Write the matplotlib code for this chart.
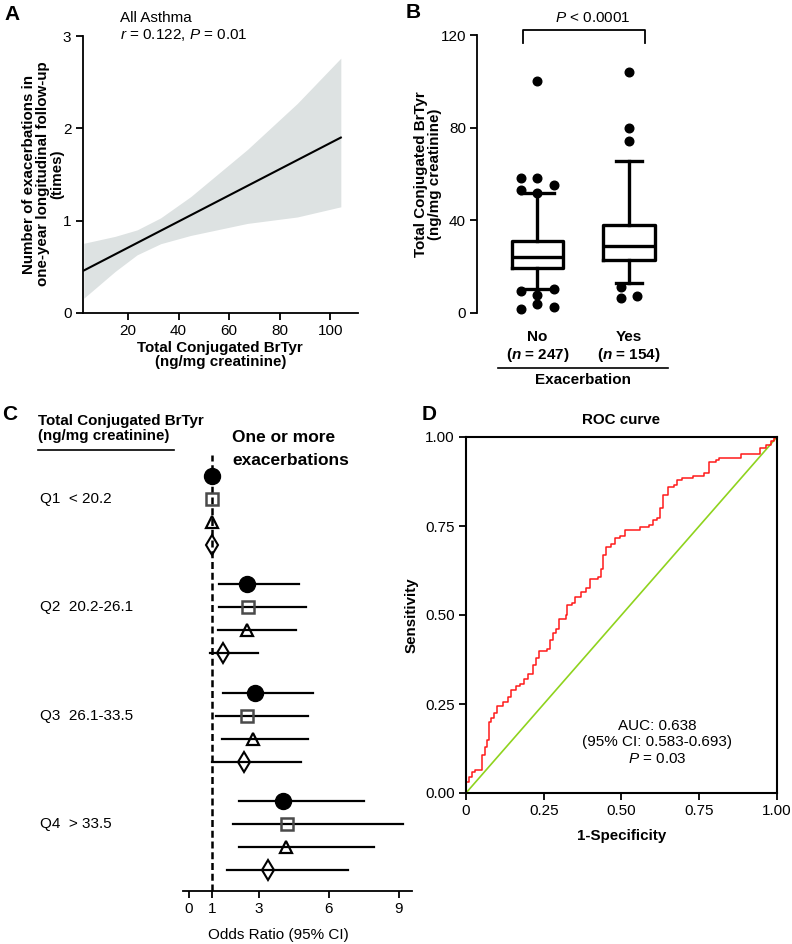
import matplotlib
matplotlib.use("Agg")
import matplotlib.pyplot as plt
import matplotlib.transforms as mtransforms
import numpy as np

plt.rcParams['font.family'] = ['Liberation Sans', 'DejaVu Sans']
plt.rcParams['mathtext.fontset'] = 'custom'
plt.rcParams['mathtext.rm'] = 'Liberation Sans'
plt.rcParams['mathtext.it'] = 'Liberation Sans:italic'
plt.rcParams['mathtext.bf'] = 'Liberation Sans:bold'
try:
    plt.rcParams['mathtext.bfit'] = 'Liberation Sans:bold:italic'
except KeyError:
    pass

# ---- Panel A: regression line with confidence band
a_line_x = [2.5, 104.2]
a_line_y = [0.46, 1.90]
a_band_x = [2.5, 14.9, 23.6, 32.9, 44.8, 67.2, 87.0, 104.2]
a_band_lo = [0.16, 0.45, 0.63, 0.75, 0.84, 0.97, 1.04, 1.15]
a_band_hi = [0.755, 0.83, 0.90, 1.03, 1.26, 1.77, 2.27, 2.76]

# ---- Panel B: box plot (Tukey) by exacerbation status
b_groups = ['No', 'Yes']
b_n = [247, 154]
b_q1 = [19.3, 22.9]
b_med = [24.0, 29.1]
b_q3 = [31.2, 38.0]
b_whislo = [10.2, 12.8]
b_whishi = [51.7, 65.6]
b_fliers = [
    [100.0, 58.1, 58.4, 55.2, 53.1, 51.9, 9.6, 10.2, 7.6, 1.6, 3.8, 2.7],
    [103.9, 80.0, 74.2, 11.4, 6.3, 7.3],
]
b_flier_dx = [
    [0, -0.18, 0, 0.18, -0.18, 0, -0.18, 0.18, 0, -0.18, 0, 0.18],
    [0, 0, 0, -0.09, -0.09, 0.09],
]

# ---- Panel C: odds ratios by quartile (4 models each)
c_labels = ['Q1  < 20.2', 'Q2  20.2-26.1', 'Q3  26.1-33.5', 'Q4  > 33.5']
c_or = [[1, 1, 1, 1],
        [2.49, 2.53, 2.47, 1.45],
        [2.83, 2.47, 2.73, 2.37],
        [4.02, 4.22, 4.16, 3.40]]
c_lo = [[1, 1, 1, 1],
        [1.29, 1.29, 1.24, 0.90],
        [1.45, 1.16, 1.40, 1.00],
        [2.15, 1.87, 2.15, 1.64]]
c_hi = [[1, 1, 1, 1],
        [4.72, 5.00, 4.58, 2.97],
        [5.30, 5.12, 5.12, 4.79],
        [7.50, 9.20, 7.94, 6.83]]

# ---- Panel D: ROC curve
roc_fpr = [0, 0, 0.01, 0.02, 0.028, 0.05, 0.053, 0.062, 0.068, 0.074, 0.08, 0.09,
           0.10, 0.12, 0.135, 0.145, 0.16, 0.175, 0.185, 0.20, 0.215, 0.225, 0.235,
           0.26, 0.27, 0.28, 0.29, 0.30, 0.32, 0.325, 0.34, 0.35, 0.37, 0.385, 0.40,
           0.425, 0.435, 0.44, 0.45, 0.465, 0.48, 0.495, 0.51, 0.555, 0.56, 0.59, 0.60,
           0.615, 0.625, 0.632, 0.65, 0.67, 0.68, 0.695, 0.73, 0.765, 0.78, 0.805,
           0.815, 0.885, 0.945, 0.965, 0.98, 0.99, 1.0]
roc_tpr = [0, 0.03, 0.045, 0.06, 0.065, 0.10, 0.108, 0.13, 0.15, 0.20, 0.21, 0.225,
           0.245, 0.255, 0.27, 0.29, 0.30, 0.305, 0.32, 0.335, 0.36, 0.38, 0.40,
           0.405, 0.43, 0.45, 0.46, 0.49, 0.50, 0.528, 0.535, 0.55, 0.565, 0.575, 0.60,
           0.607, 0.63, 0.668, 0.69, 0.70, 0.715, 0.722, 0.74, 0.74, 0.748, 0.752, 0.767,
           0.772, 0.80, 0.837, 0.86, 0.866, 0.878, 0.885, 0.89, 0.90, 0.93, 0.935,
           0.942, 0.953, 0.968, 0.978, 0.988, 0.997, 1.0]

W, H = 792, 944
fig = plt.figure(figsize=(W / 100, H / 100), dpi=100)


def add_axes_px(left, top, right, bottom):
    return fig.add_axes([left / W, 1 - bottom / H, (right - left) / W, (bottom - top) / H])


def ftext(x, y, s, **kw):
    return fig.text(x / W, 1 - y / H, s, **kw)


TICK = 11
LAB = 10.9

# ================= Panel A =================
axA = add_axes_px(82.5, 36, 358, 313)
axA.fill_between(a_band_x, a_band_lo, a_band_hi, color='#dde2e2', lw=0)
axA.plot(a_line_x, a_line_y, color='black', lw=1.5)
axA.set_xlim(2, 111)
axA.set_ylim(0, 3)
axA.set_xticks([20, 40, 60, 80, 100])
axA.set_yticks([0, 1, 2, 3])
for s in ['top', 'right']:
    axA.spines[s].set_visible(False)
for s in ['left', 'bottom']:
    axA.spines[s].set_linewidth(1.3)
axA.tick_params(direction='out', length=5, width=1.3, labelsize=TICK, pad=3)
axA.set_xlabel('Total Conjugated BrTyr\n(ng/mg creatinine)', fontsize=LAB,
               fontweight='bold', labelpad=2, linespacing=1.0)
ftext(43, 174, 'Number of exacerbations in\none-year longitudinal follow-up\n(times)',
      rotation=90, ha='center', va='center', fontsize=LAB, fontweight='bold',
      linespacing=0.98)
ftext(120, 18, 'All Asthma', fontsize=TICK, va='center')
ftext(120, 35, r'$\it{r}$ = 0.122, $\it{P}$ = 0.01', fontsize=TICK, va='center')
ftext(12, 15, 'A', fontsize=15, fontweight='bold', ha='center', va='center')

# ================= Panel B =================
axB = add_axes_px(477, 35, 700, 313)
stats = []
for i in range(2):
    stats.append({'med': b_med[i], 'q1': b_q1[i], 'q3': b_q3[i],
                  'whislo': b_whislo[i], 'whishi': b_whishi[i], 'fliers': []})
lw_box = 2.4
axB.bxp(stats, positions=[0, 1], widths=0.56, capwidths=[0.36, 0.28],
        showfliers=False, patch_artist=False,
        boxprops=dict(color='black', lw=lw_box),
        medianprops=dict(color='black', lw=lw_box),
        whiskerprops=dict(color='black', lw=lw_box),
        capprops=dict(color='black', lw=lw_box))
for i in range(2):
    xs = [i + d for d in b_flier_dx[i]]
    axB.plot(xs, b_fliers[i], 'o', color='black', ms=6.2, ls='none', clip_on=False)
axB.set_xlim(-0.658, 1.774)
axB.set_ylim(0, 120)
axB.set_yticks([0, 40, 80, 120])
for s in ['top', 'right', 'bottom']:
    axB.spines[s].set_visible(False)
axB.spines['left'].set_linewidth(1.3)
axB.tick_params(axis='y', direction='out', length=5, width=1.3, labelsize=TICK, pad=3)
axB.set_xticks([])
tr = axB.get_xaxis_transform()
for i in range(2):
    axB.text(i, -0.086, b_groups[i], transform=tr, ha='center', va='center',
             fontsize=TICK, fontweight='bold')
    axB.text(i, -0.151, r'($\mathbfit{n}$ = %d)' % b_n[i], transform=tr, ha='center',
             va='center', fontsize=TICK, fontweight='bold')
axB.plot([-0.429, 1.425], [-0.198, -0.198], transform=tr, color='black', lw=1.2,
         clip_on=False)
axB.text(0.5, -0.241, 'Exacerbation', transform=tr, ha='center', va='center',
         fontsize=TICK, fontweight='bold')
# significance bracket
axB.plot([-0.156, -0.156, 1.175, 1.175], [116.5, 122.1, 122.1, 116.5], color='black',
         lw=1.3, clip_on=False)
ftext(593, 18, r'$\it{P}$ < 0.0001', fontsize=TICK, ha='center', va='center')
ftext(428, 174, 'Total Conjugated BrTyr\n(ng/mg creatinine)', rotation=90,
      ha='center', va='center', fontsize=LAB, fontweight='bold', linespacing=1.0)
ftext(413, 13, 'B', fontsize=15, fontweight='bold', ha='center', va='center')

# ================= Panel C =================
axC = add_axes_px(183, 455, 412, 891)
axC.axvline(1, color='black', lw=1.8, ls=(0, (2.8, 1.5)), zorder=1)
group_step = 4.7
markers = [dict(marker='o', ms=11.5, mfc='black', mec='black', mew=1.0),
           dict(marker='s', ms=8.3, mfc='none', mec='#4a4a4a', mew=1.8),
           dict(marker='^', ms=8.0, mfc='none', mec='black', mew=1.6),
           dict(marker='d', ms=10.0, mfc='none', mec='black', mew=1.5)]
for g in range(4):
    for k in range(4):
        yy = g * group_step + k
        if c_hi[g][k] > c_lo[g][k]:
            axC.plot([c_lo[g][k], c_hi[g][k]], [yy, yy], color='black', lw=1.6, zorder=2)
        axC.plot([c_or[g][k]], [yy], ls='none', zorder=3, **markers[k])
axC.set_xlim(-0.26, 9.57)
axC.set_ylim(3 * group_step + 3 + 0.91, -0.91)
axC.set_xticks([0, 1, 3, 6, 9])
axC.set_yticks([])
for s in ['top', 'right', 'left']:
    axC.spines[s].set_visible(False)
axC.spines['bottom'].set_linewidth(1.3)
axC.tick_params(axis='x', direction='out', length=5, width=1.3, labelsize=TICK, pad=3)
trC = mtransforms.blended_transform_factory(fig.transFigure, axC.transData)
for g in range(4):
    axC.text(40 / W, g * group_step + 1, c_labels[g], transform=trC, ha='left',
             va='center', fontsize=TICK)
ftext(278, 935, 'Odds Ratio (95% CI)', fontsize=TICK, ha='center', va='center')
ftext(38, 421, 'Total Conjugated BrTyr', fontsize=LAB, fontweight='bold', va='center')
ftext(38, 436, '(ng/mg creatinine)', fontsize=LAB, fontweight='bold', va='center')
fig.add_artist(plt.Line2D([38 / W, 174 / W], [1 - 450 / H, 1 - 450 / H],
                          color='black', lw=1.2))
ftext(232, 438, 'One or more', fontsize=12.5, fontweight='bold', va='center')
ftext(232, 460, 'exacerbations', fontsize=12.5, fontweight='bold', va='center')
ftext(10, 415, 'C', fontsize=15, fontweight='bold', ha='center', va='center')

# ================= Panel D =================
axD = add_axes_px(466, 437, 777, 793)
axD.plot([0, 1], [0, 1], color='#8fd31e', lw=1.2)
axD.plot(roc_fpr, roc_tpr, color='#ff1a1a', lw=1.1, drawstyle='steps-post')
axD.set_xlim(0, 1)
axD.set_ylim(0, 1)
axD.set_xticks([0, 0.25, 0.5, 0.75, 1.0])
axD.set_xticklabels(['0', '0.25', '0.50', '0.75', '1.00'])
axD.set_yticks([0, 0.25, 0.5, 0.75, 1.0])
axD.set_yticklabels(['0.00', '0.25', '0.50', '0.75', '1.00'])
for s in axD.spines.values():
    s.set_linewidth(1.5)
axD.tick_params(direction='out', length=5, width=1.3, labelsize=TICK, pad=3)
axD.set_title('ROC curve', fontsize=LAB, fontweight='bold', pad=9)
axD.set_xlabel('1-Specificity', fontsize=LAB, fontweight='bold', labelpad=8)
axD.set_ylabel('Sensitivity', fontsize=LAB, fontweight='bold', labelpad=5)
axD.text(0.614, 0.188, 'AUC: 0.638', transform=axD.transAxes, ha='center',
         va='center', fontsize=TICK)
axD.text(0.614, 0.143, '(95% CI: 0.583-0.693)', transform=axD.transAxes, ha='center',
         va='center', fontsize=TICK)
axD.text(0.614, 0.096, r'$\it{P}$ = 0.03', transform=axD.transAxes, ha='center',
         va='center', fontsize=TICK)
ftext(429, 415, 'D', fontsize=15, fontweight='bold', ha='center', va='center')

fig.savefig('out.png', dpi=100)
